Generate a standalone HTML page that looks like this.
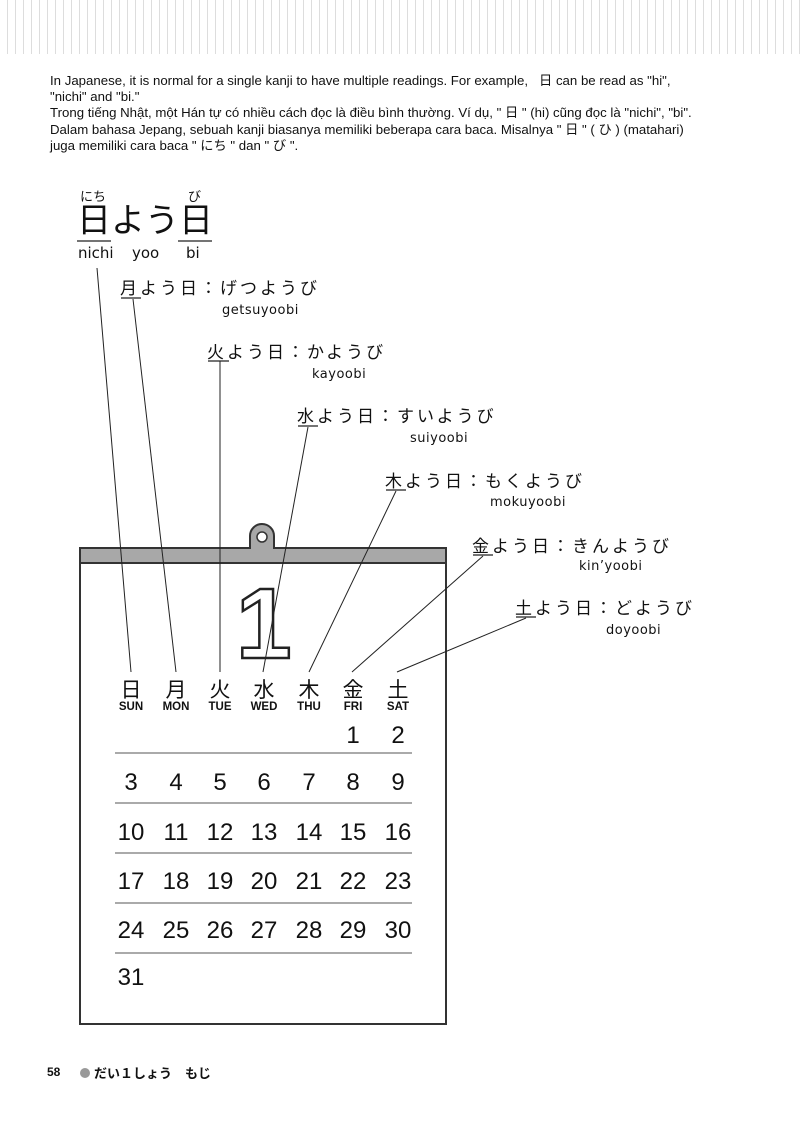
<!DOCTYPE html>
<html><head><meta charset="utf-8"><style>
body{margin:0;width:800px;height:1121px;background:#fff;position:relative;overflow:hidden;font-family:"Liberation Sans","Noto Sans CJK JP",sans-serif;color:#111}
.stripes{position:absolute;left:0;top:0;width:800px;height:54px;background:repeating-linear-gradient(90deg,#fff 0 7px,#ddd 7px 8px)}
.p{position:absolute;left:50px;top:73px;font-size:13.3px;line-height:16.2px;white-space:nowrap;transform:scaleX(0.995);transform-origin:0 0}
.a{position:absolute;white-space:nowrap}
.jp{font-family:"Noto Sans CJK JP",sans-serif;font-size:17px;letter-spacing:3px}
.ro{font-family:"DejaVu Sans",sans-serif;font-size:13px;letter-spacing:0.5px}
</style></head><body>
<div class="stripes"></div>
<div class="p">In Japanese, it is normal for a single kanji to have multiple readings. For example, &nbsp; 日 can be read as "hi",<br>"nichi" and "bi."<br>Trong tiếng Nhật, một Hán tự có nhiều cách đọc là điều bình thường. Ví dụ, " 日 " (hi) cũng đọc là "nichi", "bi".<br>Dalam bahasa Jepang, sebuah kanji biasanya memiliki beberapa cara baca. Misalnya " 日 " ( ひ ) (matahari)<br>juga memiliki cara baca " にち " dan " び ".</div>

<div class="a" style="left:80px;top:186px;font-size:13px;font-family:'Noto Sans CJK JP',sans-serif">にち</div>
<div class="a" style="left:188px;top:186px;font-size:13px;font-family:'Noto Sans CJK JP',sans-serif">び</div>
<div class="a" style="left:77px;top:195px;font-size:34px;line-height:46px;font-family:'Noto Sans CJK JP',sans-serif">日よう日</div>
<div class="a" style="left:78px;top:244px;font-size:15px;font-family:'DejaVu Sans',sans-serif">nichi</div>
<div class="a" style="left:132px;top:244px;font-size:15px;font-family:'DejaVu Sans',sans-serif">yoo</div>
<div class="a" style="left:186px;top:244px;font-size:15px;font-family:'DejaVu Sans',sans-serif">bi</div>

<div class="a jp" style="left:120px;top:274px">月よう日：げつようび</div>
<div class="a ro" style="left:222px;top:303px">getsuyoobi</div>
<div class="a jp" style="left:207px;top:338px">火よう日：かようび</div>
<div class="a ro" style="left:312px;top:367px">kayoobi</div>
<div class="a jp" style="left:297px;top:402px">水よう日：すいようび</div>
<div class="a ro" style="left:410px;top:431px">suiyoobi</div>
<div class="a jp" style="left:385px;top:467px">木よう日：もくようび</div>
<div class="a ro" style="left:490px;top:495px">mokuyoobi</div>
<div class="a jp" style="left:472px;top:532px">金よう日：きんようび</div>
<div class="a ro" style="left:579px;top:559px">kin’yoobi</div>
<div class="a jp" style="left:515px;top:594px">土よう日：どようび</div>
<div class="a ro" style="left:606px;top:623px">doyoobi</div>

<svg class="a" style="left:0;top:0" width="800" height="1121">
<g stroke="#222" stroke-width="1.2">
<line x1="77" y1="241" x2="111" y2="241"/><line x1="178" y1="241" x2="212" y2="241"/>
<line x1="121" y1="298" x2="141" y2="298"/><line x1="208" y1="361" x2="229" y2="361"/>
<line x1="298" y1="426" x2="318" y2="426"/><line x1="386" y1="490" x2="406" y2="490"/>
<line x1="473" y1="555" x2="493" y2="555"/><line x1="516" y1="617" x2="536" y2="617"/>
</g>
<path d="M80 563 V1024 H446 V563" fill="#fff" stroke="#333" stroke-width="2"/>
<path d="M80 548 H250 V536 a12 12 0 0 1 24 0 V548 H446 V563 H80 Z" fill="#a8a8a8" stroke="#333" stroke-width="2"/>
<circle cx="262" cy="537" r="5" fill="#fff" stroke="#333" stroke-width="1.5"/>
<text x="236" y="658" font-family="Liberation Sans" font-weight="bold" font-size="100" fill="#fff" stroke="#222" stroke-width="2.5">1</text>
<g stroke="#222" stroke-width="1">
<line x1="97" y1="268" x2="131" y2="672"/>
<line x1="133" y1="299" x2="176" y2="672"/>
<line x1="220" y1="361" x2="220" y2="672"/>
<line x1="308" y1="427" x2="263" y2="672"/>
<line x1="396" y1="491" x2="309" y2="672"/>
<line x1="483" y1="556" x2="352" y2="672"/>
<line x1="526" y1="618" x2="397" y2="672"/>
</g>
<g font-family="Noto Sans CJK JP" font-size="21" text-anchor="middle" fill="#111">
<text x="131" y="697">日</text><text x="176" y="697">月</text><text x="220" y="697">火</text><text x="264" y="697">水</text><text x="309" y="697">木</text><text x="353" y="697">金</text><text x="398" y="697">土</text>
</g>
<g font-family="Liberation Sans" font-weight="bold" font-size="11.5" text-anchor="middle" fill="#111">
<text x="131" y="710">SUN</text><text x="176" y="710">MON</text><text x="220" y="710">TUE</text><text x="264" y="710">WED</text><text x="309" y="710">THU</text><text x="353" y="710">FRI</text><text x="398" y="710">SAT</text>
</g>
<g stroke="#777" stroke-width="1.2">
<line x1="115" y1="753" x2="412" y2="753"/><line x1="115" y1="803" x2="412" y2="803"/><line x1="115" y1="853" x2="412" y2="853"/><line x1="115" y1="903" x2="412" y2="903"/><line x1="115" y1="953" x2="412" y2="953"/>
</g>
<g font-family="Liberation Sans" font-size="24" text-anchor="middle" fill="#111">
<text x="353" y="743">1</text><text x="398" y="743">2</text>
<text x="131" y="790">3</text><text x="176" y="790">4</text><text x="220" y="790">5</text><text x="264" y="790">6</text><text x="309" y="790">7</text><text x="353" y="790">8</text><text x="398" y="790">9</text>
<text x="131" y="840">10</text><text x="176" y="840">11</text><text x="220" y="840">12</text><text x="264" y="840">13</text><text x="309" y="840">14</text><text x="353" y="840">15</text><text x="398" y="840">16</text>
<text x="131" y="889">17</text><text x="176" y="889">18</text><text x="220" y="889">19</text><text x="264" y="889">20</text><text x="309" y="889">21</text><text x="353" y="889">22</text><text x="398" y="889">23</text>
<text x="131" y="938">24</text><text x="176" y="938">25</text><text x="220" y="938">26</text><text x="264" y="938">27</text><text x="309" y="938">28</text><text x="353" y="938">29</text><text x="398" y="938">30</text>
<text x="131" y="985">31</text>
</g>
<circle cx="85" cy="1073" r="5" fill="#999"/>
</svg>
<div class="a" style="left:47px;top:1065px;font-size:12px;font-weight:bold">58</div>
<div class="a" style="left:94px;top:1063px;font-size:13px;font-weight:bold;font-family:'Noto Sans CJK JP',sans-serif">だい１しょう　もじ</div>
</body></html>
